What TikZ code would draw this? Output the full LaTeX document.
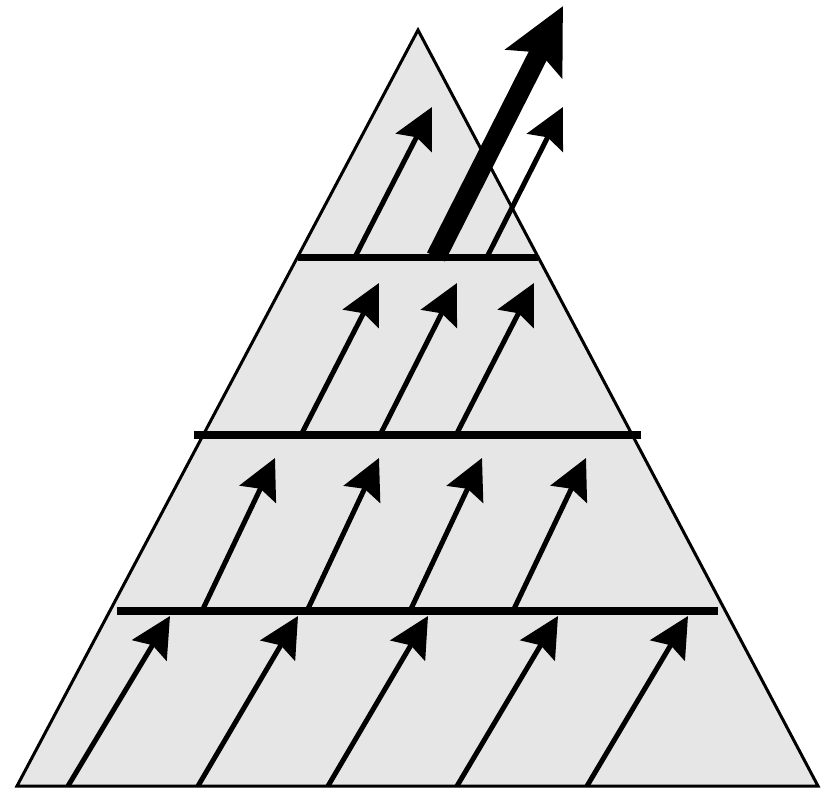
\documentclass[tikz,border=0pt]{standalone}
\usetikzlibrary{arrows.meta}
\definecolor{pyrfill}{RGB}{230,230,230}
\tikzset{
  pyredge/.style={draw=black, line width=3pt, line join=miter, fill=pyrfill},
  levelbar/.style={draw=black, line width=8pt},
  flow/.style={draw=black, line width=5pt, -{Stealth[length=40pt,width=40pt,inset=6pt]}},
  bigflow/.style={draw=black, line width=20pt, -{Stealth[length=64pt,width=62pt,inset=12pt]}}
}
\begin{document}
\begin{tikzpicture}[x=1pt,y=-1pt]
\useasboundingbox (0,0) rectangle (825,790);
% triangle
\coordinate (apex) at (418,30);
\coordinate (bl) at (17,786);
\coordinate (br) at (818,786);
\path[pyredge] (apex) -- (br) -- (bl) -- cycle;
% row 1 arrows
\foreach \i/\sx/\tx in {1/68/170, 2/198/298, 3/328/428, 4/457/558, 5/587/688} {
  \coordinate (a1s\i) at (\sx,786);
  \coordinate (a1t\i) at (\tx,616);
  \draw[flow] (a1s\i) -- (a1t\i);
}
% row 2 arrows
\foreach \i/\sx/\tx in {1/202/275, 2/307/379, 3/410/482, 4/513/586} {
  \coordinate (a2s\i) at (\sx,611);
  \coordinate (a2t\i) at (\tx,458);
  \draw[flow] (a2s\i) -- (a2t\i);
}
% row 3 arrows
\foreach \i/\sx/\tx in {1/301/379, 2/380/457, 3/456/534} {
  \coordinate (a3s\i) at (\sx,435);
  \coordinate (a3t\i) at (\tx,283);
  \draw[flow] (a3s\i) -- (a3t\i);
}
% row 4 arrows
\coordinate (a4s1) at (355,257); \coordinate (a4t1) at (432,107);
\coordinate (a4s2) at (487,257); \coordinate (a4t2) at (563,107);
\coordinate (bigs) at (436,257); \coordinate (bigt) at (563,6);
\draw[flow] (a4s1) -- (a4t1);
\draw[flow] (a4s2) -- (a4t2);
\draw[bigflow] (bigs) -- (bigt);
% level bars
\coordinate (l1a) at (117,611); \coordinate (l1b) at (718,611);
\coordinate (l2a) at (194,435); \coordinate (l2b) at (641,435);
\coordinate (l3a) at (298,257); \coordinate (l3b) at (538,257);
\draw[levelbar] (l1a) -- (l1b);
\draw[levelbar] (l2a) -- (l2b);
\draw[levelbar, line width=7pt] (l3a) -- (l3b);
\end{tikzpicture}
\end{document}
